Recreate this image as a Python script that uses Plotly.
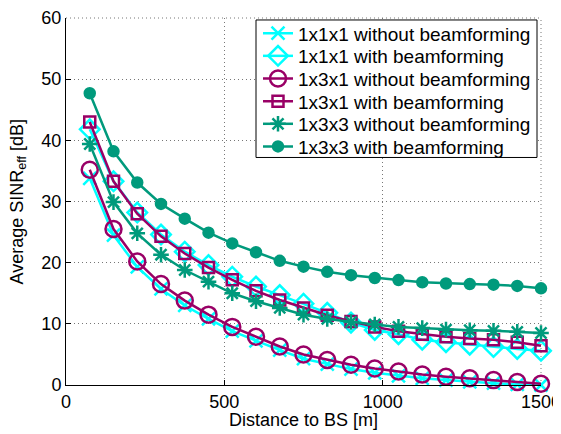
import plotly.graph_objects as go

distance = [75 * (i + 1) for i in range(20)]

s111_nobf = [33.8, 24.5, 19.3, 15.7, 13.0, 10.8, 8.8, 7.2, 5.7, 4.3, 3.4, 2.6, 2.0, 1.5, 1.1, 0.8, 0.5, 0.3, 0.1, 0.0]
s111_bf = [41.8, 33.3, 28.2, 24.6, 21.8, 19.6, 17.7, 16.1, 14.7, 13.3, 11.8, 10.2, 9.0, 8.3, 7.4, 7.0, 6.6, 6.2, 5.9, 5.6]
s131_nobf = [35.2, 25.5, 20.2, 16.5, 13.8, 11.5, 9.5, 7.9, 6.3, 5.0, 4.1, 3.3, 2.7, 2.2, 1.7, 1.35, 1.1, 0.8, 0.5, 0.2]
s131_bf = [43.0, 33.3, 28.0, 24.3, 21.5, 19.2, 17.2, 15.4, 13.9, 12.6, 11.4, 10.4, 9.5, 8.8, 8.3, 7.9, 7.6, 7.4, 7.0, 6.4]
s133_nobf = [39.4, 29.9, 24.8, 21.3, 18.8, 16.9, 15.0, 13.7, 12.6, 11.5, 10.8, 10.3, 9.9, 9.5, 9.3, 9.05, 8.95, 8.85, 8.7, 8.5]
s133_bf = [47.7, 38.2, 33.1, 29.6, 27.2, 24.9, 23.15, 21.7, 20.3, 19.35, 18.5, 17.96, 17.5, 17.15, 16.8, 16.6, 16.5, 16.4, 16.2, 15.8]

labels = ["1x1x1 without beamforming", "1x1x1 with beamforming",
          "1x3x1 without beamforming", "1x3x1 with beamforming",
          "1x3x3 without beamforming", "1x3x3 with beamforming"]

x_title = "Distance to BS [m]"
y_title = "Average SINR<sub>eff</sub> [dB]"

CYAN = "#00FFFF"
PURPLE = "#990066"
GREEN = "#009A7C"

fig = go.Figure()

styles = [
    (s111_nobf, CYAN, "x-thin-open", 13),
    (s111_bf, CYAN, "diamond-open", 15),
    (s131_nobf, PURPLE, "circle-open", 16),
    (s131_bf, PURPLE, "square-open", 11),
    (s133_nobf, GREEN, "asterisk-open", 13),
    (s133_bf, GREEN, "circle", 10),
]

font = "Liberation Sans, Arial, Helvetica, sans-serif"
FS = 18
LFS = 19

# the page body has an 8px margin; work in page pixels and convert
OFF = 8
PAGE_W, PAGE_H = 561, 434
FIG_W, FIG_H = PAGE_W - OFF, PAGE_H - OFF
PLOT_L, PLOT_R, PLOT_T, PLOT_B = 66, 541, 14, 385  # page px
W_, H_ = PLOT_R - PLOT_L, PLOT_B - PLOT_T
row0, row_gap = 29.5, 22.9


def px(xp):
    return (xp - PLOT_L) / W_


def py(yp):
    return (PLOT_B - yp) / H_


legend_layouts = {}
for i, ((vals, col, sym, sz), name) in enumerate(zip(styles, labels)):
    lg = "legend" if i == 0 else f"legend{i + 1}"
    fig.add_trace(go.Scatter(
        x=distance, y=vals, name=name, mode="lines+markers",
        line=dict(color=col, width=2.5),
        marker=dict(symbol=sym, size=sz, color=col,
                    line=dict(color=col, width=2.5)),
        cliponaxis=False, legend=lg,
    ))
    yc = row0 + i * row_gap
    legend_layouts[lg] = dict(
        x=px(258), xanchor="left",
        y=py(yc), yanchor="middle",
        bgcolor="rgba(0,0,0,0)", borderwidth=0,
        font=dict(size=LFS, family=font), itemwidth=30,
    )

# dotted top and right box edges (as in the reference)
fig.add_shape(type="line", xref="paper", yref="paper", layer="below",
              x0=0, x1=1, y0=1, y1=1,
              line=dict(color="#777777", width=1, dash="1px,3px"))
fig.add_shape(type="line", xref="paper", yref="paper", layer="below",
              x0=1, x1=1, y0=0, y1=1,
              line=dict(color="#777777", width=1, dash="1px,3px"))

fig.add_shape(
    type="rect", xref="paper", yref="paper", layer="above",
    x0=px(256), x1=px(537), y0=py(155), y1=py(16),
    fillcolor="white", line=dict(color="black", width=1),
)

fig.add_annotation(
    text=x_title, xref="paper", yref="paper", showarrow=False,
    x=0.5, xanchor="center", y=py(420), yanchor="middle",
    font=dict(size=FS, family=font, color="black"),
)
fig.add_annotation(
    text=y_title, xref="paper", yref="paper", showarrow=False, textangle=-90,
    x=px(18), xanchor="center", y=0.5, yanchor="middle",
    font=dict(size=FS, family=font, color="black"),
)

axis_common = dict(
    showgrid=True, gridcolor="#777777", griddash="1px,3px", gridwidth=1,
    showline=True, linecolor="black", linewidth=1,
    ticks="inside", ticklen=5, tickcolor="black",
    zeroline=False, tickfont=dict(size=FS), automargin=False,
    ticklabeloverflow="allow",
)

fig.update_layout(
    width=FIG_W, height=FIG_H,
    margin=dict(l=PLOT_L - OFF, r=PAGE_W - PLOT_R, t=PLOT_T - OFF, b=PAGE_H - PLOT_B),
    paper_bgcolor="white", plot_bgcolor="white",
    font=dict(family=font, size=FS, color="black"),
    showlegend=True,
    xaxis=dict(range=[0, 1500], tickvals=[0, 500, 1000, 1500], **axis_common),
    yaxis=dict(range=[0, 60], tickvals=[0, 10, 20, 30, 40, 50, 60], **axis_common),
    **legend_layouts,
)

fig.write_html("out.html")
